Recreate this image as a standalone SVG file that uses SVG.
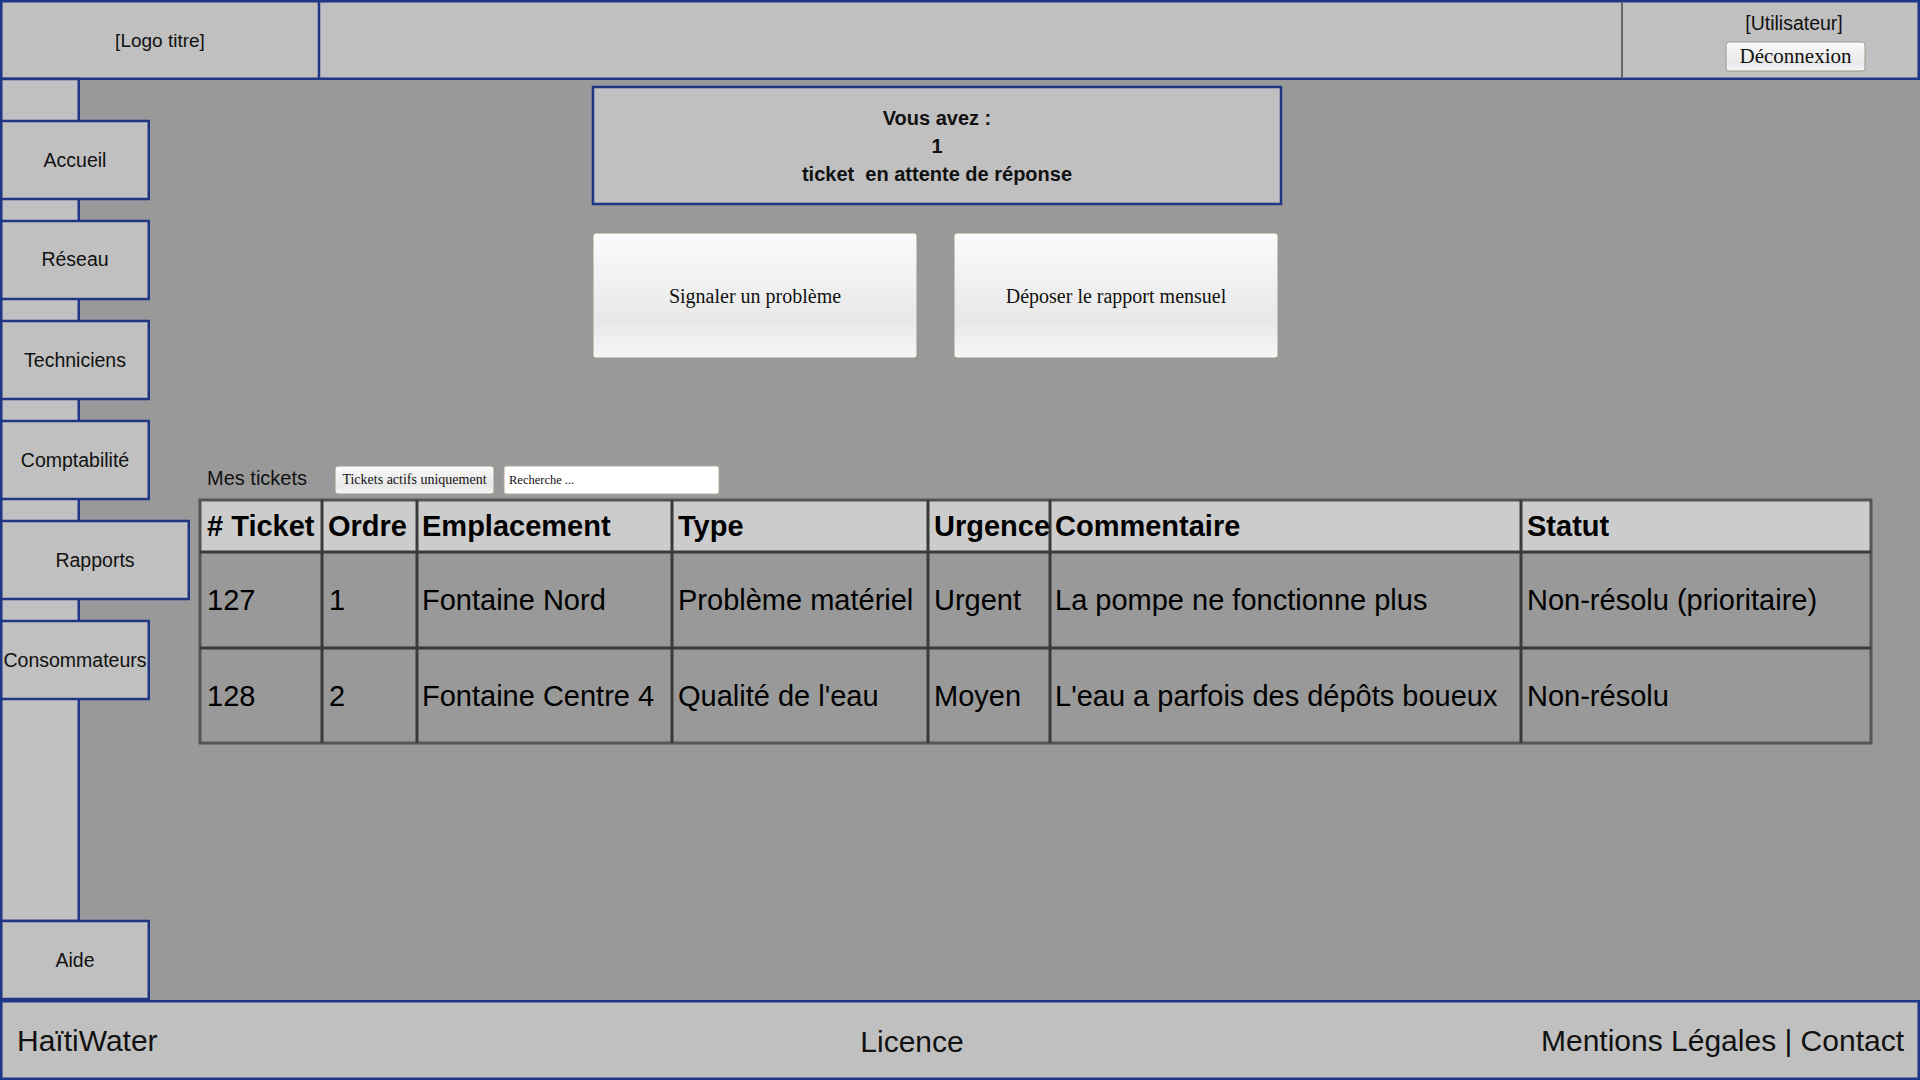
<svg xmlns="http://www.w3.org/2000/svg" width="1920" height="1080" viewBox="0 0 1920 1080">
<defs>
<linearGradient id="btn" x1="0" y1="0" x2="0" y2="1">
<stop offset="0" stop-color="#fbfbfb"/>
<stop offset="0.7" stop-color="#e8e8e8"/>
<stop offset="1" stop-color="#f7f7f7"/>
</linearGradient>
<style>
.panel{fill:#c0c0c0;stroke:#1f3784;stroke-width:2.5}
.sans{font-family:"Liberation Sans",Arial,sans-serif;fill:#111}
.serif{font-family:"Liberation Serif","Times New Roman",serif;fill:#111}
.nav{font-size:19.5px;text-anchor:middle}
.th{font-size:29px;font-weight:bold;fill:#000}
.td{font-size:29px;fill:#000}
.grid{stroke:#3a3a3a;stroke-width:3;fill:none}
.foot{font-size:30px}
.btn{fill:url(#btn);stroke:#a09888;stroke-width:1}
</style>
</defs>
<rect x="0" y="0" width="1920" height="1080" fill="#999999"/>

<g id="header">
<rect class="panel" x="1.25" y="1.25" width="1917.5" height="77.5"/>
<line x1="319" y1="1" x2="319" y2="79" stroke="#1f3784" stroke-width="2.5"/>
<line x1="1622" y1="2" x2="1622" y2="78" stroke="#666" stroke-width="2"/>
<text class="sans" x="160" y="47" font-size="19" text-anchor="middle">[Logo titre]</text>
<text class="sans" x="1794" y="30" font-size="19.5" text-anchor="middle">[Utilisateur]</text>
<rect class="btn" x="1726" y="42" width="139" height="29" rx="3"/>
<text class="serif" x="1795.5" y="63" font-size="21" text-anchor="middle">Déconnexion</text>
</g>

<g id="sidebar">
<rect class="panel" x="1.25" y="79" width="77.5" height="842"/>
</g>
<g id="nav-accueil"><rect class="panel" x="1.25" y="121" width="147.5" height="78"/><text class="sans nav" x="75" y="167">Accueil</text></g>
<g id="nav-reseau"><rect class="panel" x="1.25" y="221" width="147.5" height="78"/><text class="sans nav" x="75" y="266">Réseau</text></g>
<g id="nav-techniciens"><rect class="panel" x="1.25" y="321" width="147.5" height="78"/><text class="sans nav" x="75" y="367">Techniciens</text></g>
<g id="nav-comptabilite"><rect class="panel" x="1.25" y="421" width="147.5" height="78"/><text class="sans nav" x="75" y="467">Comptabilité</text></g>
<g id="nav-rapports"><rect class="panel" x="1.25" y="521" width="187.5" height="78"/><text class="sans nav" x="95" y="567">Rapports</text></g>
<g id="nav-consommateurs"><rect class="panel" x="1.25" y="621" width="147.5" height="78"/><text class="sans nav" x="75" y="667">Consommateurs</text></g>
<g id="nav-aide"><rect class="panel" x="1.25" y="921" width="147.5" height="78"/><text class="sans nav" x="75" y="967">Aide</text></g>

<g id="notice">
<rect class="panel" x="593" y="87" width="688" height="117"/>
<text class="sans" font-size="20" font-weight="bold" text-anchor="middle" fill="#000"><tspan x="937" y="125">Vous avez :</tspan><tspan x="937" y="153">1</tspan><tspan x="937" y="181">ticket&#160; en attente de réponse</tspan></text>
</g>

<g id="btn-signaler">
<rect class="btn" x="593" y="233" width="324" height="125" rx="3"/>
<text class="serif" x="755" y="303" font-size="20" text-anchor="middle">Signaler un problème</text>
</g>
<g id="btn-deposer">
<rect class="btn" x="954" y="233" width="324" height="125" rx="3"/>
<text class="serif" x="1116" y="303" font-size="20" text-anchor="middle">Déposer le rapport mensuel</text>
</g>

<g id="tickets-toolbar">
<text class="sans" x="207" y="485" font-size="20">Mes tickets</text>
<rect class="btn" x="335" y="466" width="159" height="28" rx="3"/>
<text class="serif" x="414.5" y="484" font-size="14" text-anchor="middle">Tickets actifs uniquement</text>
<rect x="504" y="466" width="215" height="28" rx="2" fill="#ffffff" stroke="#b0a898" stroke-width="1"/>
<text class="serif" x="509" y="484" font-size="12.5" fill="#333">Recherche ...</text>
</g>

<g id="tickets-table">
<rect x="200" y="500" width="1671" height="52" fill="#cccccc"/>
<rect x="200" y="552" width="1671" height="191" fill="#999999"/>
<g class="grid">
<rect x="200" y="500" width="1671" height="243" stroke="#555"/>
<line x1="200" y1="552" x2="1871" y2="552"/>
<line x1="200" y1="648" x2="1871" y2="648"/>
<line x1="322" y1="500" x2="322" y2="743"/>
<line x1="417" y1="500" x2="417" y2="743"/>
<line x1="672" y1="500" x2="672" y2="743"/>
<line x1="928" y1="500" x2="928" y2="743"/>
<line x1="1050" y1="500" x2="1050" y2="743"/>
<line x1="1521" y1="500" x2="1521" y2="743"/>
</g>
<g class="sans th">
<text x="207" y="536">#&#160;Ticket</text>
<text x="328" y="536">Ordre</text>
<text x="422" y="536">Emplacement</text>
<text x="678" y="536">Type</text>
<text x="934" y="536">Urgence</text>
<text x="1055" y="536">Commentaire</text>
<text x="1527" y="536">Statut</text>
</g>
<g class="sans td">
<text x="207" y="610">127</text>
<text x="329" y="610">1</text>
<text x="422" y="610">Fontaine Nord</text>
<text x="678" y="610">Problème matériel</text>
<text x="934" y="610">Urgent</text>
<text x="1055" y="610">La pompe ne fonctionne plus</text>
<text x="1527" y="610">Non-résolu (prioritaire)</text>
<text x="207" y="706">128</text>
<text x="329" y="706">2</text>
<text x="422" y="706">Fontaine Centre 4</text>
<text x="678" y="706">Qualité de l'eau</text>
<text x="934" y="706">Moyen</text>
<text x="1055" y="706">L'eau a parfois des dépôts boueux</text>
<text x="1527" y="706">Non-résolu</text>
</g>
</g>

<g id="footer">
<rect class="panel" x="1.25" y="1001.25" width="1917.5" height="77.5"/>
<text class="sans foot" x="17" y="1051">HaïtiWater</text>
<text class="sans foot" x="912" y="1052" text-anchor="middle">Licence</text>
<text class="sans foot" x="1904" y="1051" text-anchor="end">Mentions Légales | Contact</text>
</g>

<g id="connectors"/>
</svg>
